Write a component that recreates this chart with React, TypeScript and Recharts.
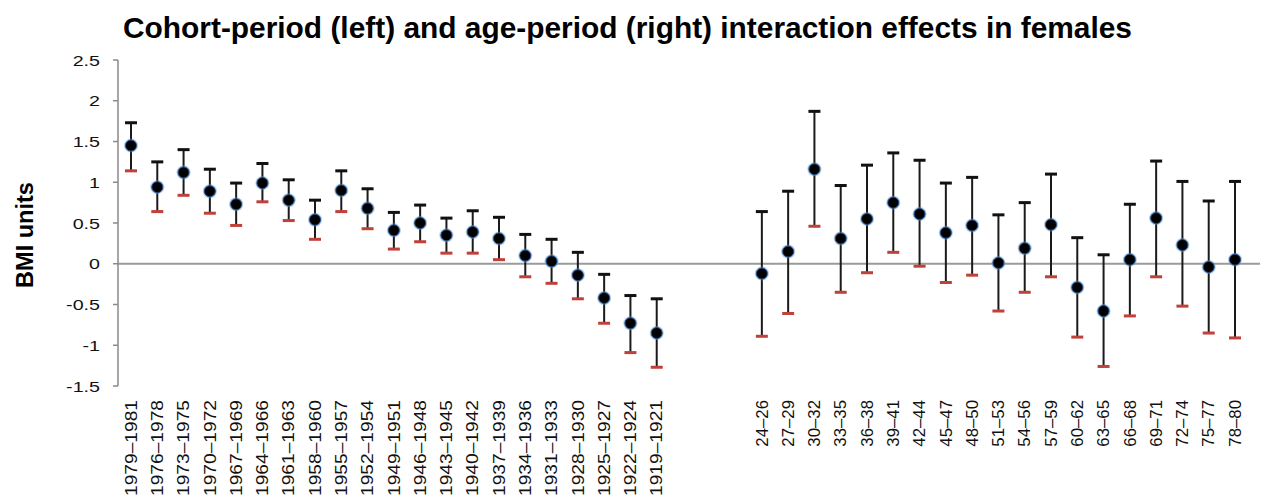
import React from 'react';
import { ComposedChart, Line, XAxis, YAxis, ErrorBar, ReferenceLine } from 'recharts';

const cohortLabels = [
  '1979–1981', '1976–1978', '1973–1975', '1970–1972', '1967–1969', '1964–1966', '1961–1963',
  '1958–1960', '1955–1957', '1952–1954', '1949–1951', '1946–1948', '1943–1945', '1940–1942',
  '1937–1939', '1934–1936', '1931–1933', '1928–1930', '1925–1927', '1922–1924', '1919–1921',
];
const cohortEst = [1.45, 0.94, 1.12, 0.89, 0.73, 0.99, 0.78, 0.54, 0.9, 0.68, 0.41, 0.5, 0.35, 0.39, 0.31, 0.1, 0.03, -0.14, -0.42, -0.73, -0.85];
const cohortUpper = [1.73, 1.25, 1.4, 1.16, 0.99, 1.23, 1.03, 0.78, 1.14, 0.92, 0.63, 0.72, 0.56, 0.65, 0.57, 0.36, 0.3, 0.14, -0.13, -0.39, -0.43];
const cohortLower = [1.14, 0.64, 0.84, 0.62, 0.47, 0.76, 0.53, 0.3, 0.64, 0.43, 0.18, 0.27, 0.13, 0.13, 0.05, -0.16, -0.24, -0.43, -0.73, -1.09, -1.27];

const ageLabels = [
  '24–26', '27–29', '30–32', '33–35', '36–38', '39–41', '42–44', '45–47', '48–50', '51–53',
  '54–56', '57–59', '60–62', '63–65', '66–68', '69–71', '72–74', '75–77', '78–80',
];
const ageEst = [-0.12, 0.15, 1.16, 0.31, 0.55, 0.75, 0.61, 0.38, 0.47, 0.01, 0.19, 0.48, -0.29, -0.58, 0.05, 0.56, 0.23, -0.04, 0.05];
const ageUpper = [0.64, 0.89, 1.87, 0.96, 1.21, 1.36, 1.27, 0.99, 1.06, 0.6, 0.75, 1.1, 0.32, 0.11, 0.73, 1.26, 1.01, 0.77, 1.01];
const ageLower = [-0.89, -0.61, 0.46, -0.35, -0.11, 0.14, -0.03, -0.23, -0.14, -0.58, -0.35, -0.16, -0.9, -1.26, -0.64, -0.16, -0.52, -0.85, -0.91];

const yTicks = [-1.5, -1, -0.5, 0, 0.5, 1, 1.5, 2, 2.5];
const GAP_COUNT = 3;

type Row = {
  label: string;
  group: 'cohort' | 'gap' | 'age';
  est: number | null;
  estDot: number | null;
  up: number | null;
  low: number | null;
  err: [number, number] | null;
};

const makeRows = (labels: string[], est: number[], up: number[], low: number[], group: 'cohort' | 'age'): Row[] =>
  labels.map((label, i) => ({
    label,
    group,
    est: est[i],
    estDot: est[i],
    up: up[i],
    low: low[i],
    err: [est[i] - low[i], up[i] - est[i]],
  }));

const rows: Row[] = [
  ...makeRows(cohortLabels, cohortEst, cohortUpper, cohortLower, 'cohort'),
  ...Array.from({ length: GAP_COUNT }, () => ({
    label: '', group: 'gap' as const, est: null, estDot: null, up: null, low: null, err: null,
  })),
  ...makeRows(ageLabels, ageEst, ageUpper, ageLower, 'age'),
];

const FONT = '"Liberation Sans", Arial, Helvetica, sans-serif';

const XTick = (props: any) => {
  const { x, y, payload, index } = props;
  const row = rows[index];
  if (!row || row.group === 'gap') return <g />;
  const sx = row.group === 'cohort' ? 1.2 : 1.05;
  return (
    <text
      transform={`translate(${x},${y}) rotate(-90) scale(${sx},1)`}
      textAnchor="end"
      dy="0.36em"
      fontSize={16}
      fontFamily={FONT}
      fill="#111"
    >
      {payload.value}
    </text>
  );
};

const YTick = (props: any) => {
  const { x, y, payload } = props;
  return (
    <text
      transform={`translate(${x},${y}) scale(1.27,1)`}
      textAnchor="end"
      dy="0.36em"
      fontSize={15.5}
      fontFamily={FONT}
      fill="#111"
    >
      {payload.value}
    </text>
  );
};

const PointDot = (props: any) => {
  const { cx, cy, index } = props;
  if (cx == null || cy == null || Number.isNaN(cy)) return <g key={`p-${index}`} />;
  return (
    <g key={`p-${index}`}>
      <circle cx={cx} cy={cy} r={7} fill="#5b8fc9" opacity={0.5} />
      <circle cx={cx} cy={cy} r={5.5} fill="#000" stroke="#1f4f8a" strokeWidth={1} />
    </g>
  );
};

const makeCap = (color: string, prefix: string) => (props: any) => {
  const { cx, cy, index } = props;
  if (cx == null || cy == null || Number.isNaN(cy)) return <g key={`${prefix}-${index}`} />;
  return <rect key={`${prefix}-${index}`} x={cx - 6} y={cy - 1.5} width={12} height={3} fill={color} />;
};

const UpperCap = makeCap('#111', 'u');
const LowerCap = makeCap('#c0403a', 'l');

export default function App() {
  return (
    <div style={{ position: 'absolute', left: 0, top: 0, width: 1263, height: 497, background: '#fff' }}>
      <ComposedChart
        width={1263}
        height={497}
        data={rows}
        margin={{ top: 60, right: 3, bottom: 0, left: 0 }}
      >
        <XAxis
          dataKey="label"
          axisLine={false}
          tickLine={false}
          interval={0}
          height={111}
          tickMargin={8}
          padding={{ left: 13, right: 25 }}
          tick={<XTick />}
        />
        <YAxis
          domain={[-1.5, 2.5]}
          ticks={yTicks}
          width={118}
          axisLine={{ stroke: '#8a8a8a', strokeWidth: 1.5 }}
          tickLine={{ stroke: '#8a8a8a', strokeWidth: 1.5 }}
          tickSize={5}
          tickMargin={13}
          tick={<YTick />}
          allowDataOverflow
        />
        <ReferenceLine y={0} stroke="#9a9a9a" strokeWidth={2} />
        <Line
          dataKey="est"
          stroke="none"
          dot={false}
          activeDot={false}
          isAnimationActive={false}
        >
          <ErrorBar dataKey="err" direction="y" width={0} stroke="#1a1a1a" strokeWidth={2} isAnimationActive={false} />
        </Line>
        <Line dataKey="up" stroke="none" dot={UpperCap} activeDot={false} isAnimationActive={false} />
        <Line dataKey="low" stroke="none" dot={LowerCap} activeDot={false} isAnimationActive={false} />
        <Line dataKey="estDot" stroke="none" dot={PointDot} activeDot={false} isAnimationActive={false} />
      </ComposedChart>
      <svg
        width={1263}
        height={497}
        style={{ position: 'absolute', left: 0, top: 0, pointerEvents: 'none' }}
      >
        <text
          x={123}
          y={38}
          fontSize={29.5}
          fontWeight="bold"
          fontFamily={FONT}
          fill="#000"
          textLength={1009}
          lengthAdjust="spacingAndGlyphs"
        >
          Cohort-period (left) and age-period (right) interaction effects in females
        </text>
        <text
          transform="translate(33,235) rotate(-90)"
          textAnchor="middle"
          fontSize={23.5}
          fontWeight="bold"
          fontFamily={FONT}
          fill="#000"
        >
          BMI units
        </text>
      </svg>
    </div>
  );
}
